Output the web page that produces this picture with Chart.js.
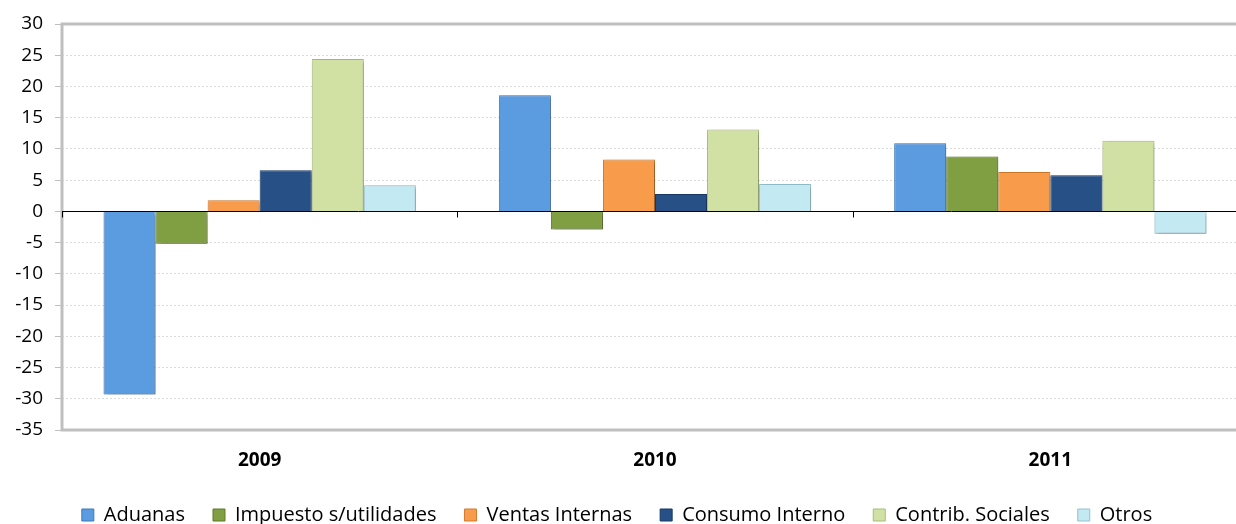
<!DOCTYPE html>
<html>
<head>
<meta charset="utf-8">
<script src="https://cdn.jsdelivr.net/npm/chart.js@4"></script>
<style>
    html, body { margin: 0; padding: 0; background: #fff; overflow: hidden; }
    #wrap { width: 1248px; height: 524px; position: relative; }
</style>
</head>
<body>
<div id="wrap"><canvas id="chart"></canvas></div>
<script>
// datos
const years = ["2009", "2010", "2011"];
const seriesNames = ["Aduanas", "Impuesto s/utilidades", "Ventas Internas", "Consumo Interno", "Contrib. Sociales", "Otros"];
const aduanas = [-29.3, 18.6, 10.9];
const impuesto = [-5.2, -2.9, 8.8];
const ventas = [1.8, 8.3, 6.3];
const consumo = [6.6, 2.8, 5.8];
const contrib = [24.4, 13.1, 11.3];
const otros = [4.2, 4.4, -3.6];
const yTicks = [30, 25, 20, 15, 10, 5, 0, -5, -10, -15, -20, -25, -30, -35];

const fills = ["#5b9be0", "#7f9f42", "#f89c4b", "#265086", "#d1e1a3", "#c3e9f2"];
const edges = ["#3f79b8", "#5f7a2c", "#d27a2c", "#173a66", "#a9bb7c", "#93c1cc"];
const values = [aduanas, impuesto, ventas, consumo, contrib, otros];

// marco, línea cero y sombras
const framePlugin = {
    id: "frame",
    afterLayout(chart) {
        // la leyenda del original está un poco a la izquierda
        if (chart.legend) {
            chart.legend.left -= 7;
            chart.legend.right -= 7;
        }
    },
    beforeDatasetsDraw(chart) {
        const { ctx, chartArea: a } = chart;
        ctx.save();
        ctx.strokeStyle = "#bfbfbf";
        ctx.lineWidth = 3;
        ctx.beginPath();
        ctx.moveTo(a.right + 5, a.top);
        ctx.lineTo(a.left, a.top);
        ctx.lineTo(a.left, a.bottom);
        ctx.lineTo(a.right + 5, a.bottom);
        ctx.stroke();
        ctx.restore();
        ctx.save();
        ctx.shadowColor = "rgba(0,0,0,0.3)";
        ctx.shadowBlur = 4;
        ctx.shadowOffsetX = 2;
        ctx.shadowOffsetY = 2;
    },
    afterDatasetsDraw(chart) {
        const { ctx, chartArea: a, scales } = chart;
        ctx.restore();
        const y0 = Math.round(scales.y.getPixelForValue(0)) + 0.5;
        ctx.save();
        ctx.strokeStyle = "#000";
        ctx.lineWidth = 1;
        ctx.beginPath();
        ctx.moveTo(a.left, y0);
        ctx.lineTo(a.right, y0);
        const step = (a.right - a.left) / years.length;
        for (let i = 0; i <= years.length; i++) {
            const x = Math.round(a.left + i * step) + 0.5;
            ctx.moveTo(x, y0);
            ctx.lineTo(x, y0 + 6);
        }
        ctx.stroke();
        ctx.restore();
    }
};

window.addEventListener("DOMContentLoaded", () => {
    const ctx = document.getElementById("chart").getContext("2d");
    new Chart(ctx, {
        type: "bar",
        data: {
            labels: years,
            datasets: seriesNames.map((name, i) => ({
                label: name,
                data: values[i],
                backgroundColor: fills[i],
                borderColor: edges[i],
                borderWidth: 1,
                barPercentage: 1,
                categoryPercentage: 0.79,
            })),
        },
        options: {
            responsive: true,
            maintainAspectRatio: false,
            animation: false,
            layout: { padding: { top: 24, left: 0, right: 0, bottom: -11 } },
            plugins: {
                title: { display: false },
                tooltip: { enabled: false },
                legend: {
                    position: "bottom",
                    labels: {
                        boxWidth: 12,
                        boxHeight: 12,
                        padding: 28,
                        color: "#000",
                        font: { family: "'Open Sans', sans-serif", size: 20 },
                    },
                },
            },
            scales: {
                x: {
                    grid: { display: false, drawTicks: false },
                    border: { display: false },
                    ticks: {
                        color: "#000",
                        padding: 19,
                        font: { family: "'Open Sans', sans-serif", size: 19, weight: "bold" },
                    },
                    afterFit(scale) { scale.height = 47; },
                },
                y: {
                    min: -35,
                    max: 30,
                    afterBuildTicks(scale) { scale.ticks = yTicks.map((v) => ({ value: v })); },
                    grid: {
                        color: (c) => ([30, 0, -35].includes(c.tick && c.tick.value) ? "rgba(0,0,0,0)" : "#dcdcdc"),
                        tickColor: "#bfbfbf",
                        tickLength: 7,
                        lineWidth: 1,
                    },
                    border: { display: false, dash: [2, 2] },
                    ticks: {
                        color: "#000",
                        padding: 12,
                        autoSkip: false,
                        font: { family: "'Open Sans', sans-serif", size: 19 },
                    },
                    afterFit(scale) { scale.width = 62; },
                },
            },
        },
        plugins: [framePlugin],
    });
});
</script>
</body>
</html>
